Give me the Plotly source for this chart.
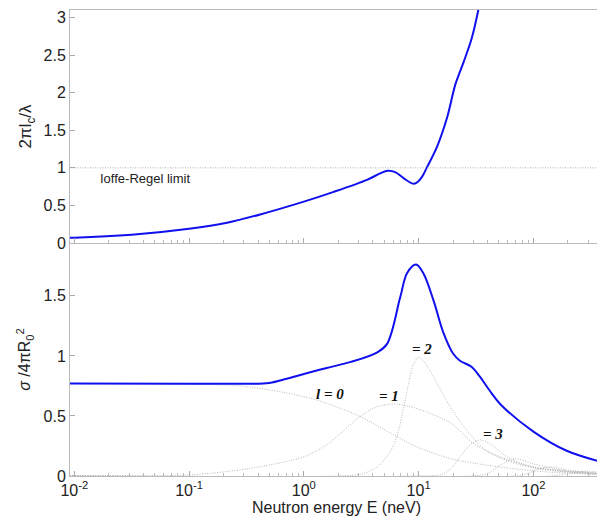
import math
import plotly.graph_objects as go
from plotly.subplots import make_subplots

# ---- data (E in neV) ----
top_E = [0.00912, 0.01, 0.0316, 0.1, 0.214, 0.417, 1.0, 1.82, 3.548, 4.677, 5.37, 6.31,
         7.586, 8.913, 9.55, 10.7, 11.75, 14.45, 17.78, 20.89, 24.55, 28.84, 33.11, 38.02]
top_val = [0.07, 0.071, 0.11, 0.19, 0.27, 0.38, 0.55, 0.68, 0.84, 0.93, 0.96, 0.94,
           0.85, 0.79, 0.80, 0.88, 1.0, 1.28, 1.68, 2.11, 2.40, 2.71, 3.1, 3.6]

tot_E = [0.00912, 0.1, 0.316, 0.501, 0.708, 1.0, 1.585, 2.57, 4.365, 5.309, 6.918, 7.943,
         9.484, 10.96, 13.49, 16.48, 19.95, 22.91, 28.84, 34.28, 41.69, 51.29, 100, 195, 389, 405]
tot_val = [0.77, 0.768, 0.768, 0.775, 0.81, 0.85, 0.90, 0.95, 1.03, 1.10, 1.49, 1.69,
           1.76, 1.69, 1.46, 1.19, 1.02, 0.96, 0.91, 0.825, 0.71, 0.60, 0.37, 0.21, 0.117, 0.113]

l0_E = [0.00912, 0.1, 0.282, 0.631, 1.318, 3.02, 5.623, 9.772, 19.95, 51.29, 125.9, 405]
l0_val = [0.77, 0.765, 0.75, 0.70, 0.63, 0.50, 0.36, 0.24, 0.14, 0.075, 0.035, 0.012]

l1_E = [0.00912, 0.0316, 0.1, 0.347, 1.0, 1.585, 2.239, 3.02, 4.169, 6.026, 9.772, 19.05,
        30.2, 51.29, 100, 405]
l1_val = [0.0, 0.001, 0.008, 0.064, 0.16, 0.26, 0.38, 0.49, 0.57, 0.60, 0.56, 0.44,
          0.27, 0.16, 0.075, 0.02]

l2_E = [0.00912, 1.995, 3.162, 4.365, 5.623, 6.457, 7.943, 8.913, 10.0, 11.22, 13.49, 18.84,
        26.3, 38.9, 72.44, 158.5, 405]
l2_val = [0.0, 0.0, 0.015, 0.075, 0.2, 0.325, 0.71, 0.92, 0.99, 0.95, 0.825, 0.575,
          0.38, 0.21, 0.10, 0.045, 0.02]

l3_E = [0.00912, 10.0, 16.22, 19.95, 22.91, 28.18, 34.28, 41.69, 58.88, 100, 199.5, 405]
l3_val = [0.0, 0.0, 0.015, 0.08, 0.16, 0.26, 0.30, 0.27, 0.16, 0.07, 0.03, 0.012]

l4_E = [0.00912, 28.18, 39.81, 51.29, 69.18, 100, 195, 405]
l4_val = [0.0, 0.0, 0.02, 0.09, 0.145, 0.10, 0.04, 0.015]

l5_E = [0.00912, 70.79, 89.13, 112.2, 141.3, 199.5, 405]
l5_val = [0.0, 0.0, 0.02, 0.06, 0.075, 0.05, 0.02]

l6_E = [0.00912, 141.3, 199.5, 281.8, 405]
l6_val = [0.0, 0.0, 0.02, 0.04, 0.03]

wave_labels = ["<b><i>l = 0</i></b>", "<b><i>= 1</i></b>", "<b><i>= 2</i></b>", "<b><i>= 3</i></b>"]
wave_label_E = [1.7, 5.5, 10.7, 44.0]
wave_label_val = [0.68, 0.67, 1.06, 0.35]

x_tickvals = [0.01, 0.1, 1, 10, 100]
x_ticktext = ["10<sup>-2</sup>", "10<sup>-1</sup>", "10<sup>0</sup>", "10<sup>1</sup>", "10<sup>2</sup>"]

limit_value = 1.0
limit_text = "Ioffe-Regel limit"

# ---- figure ----
fig = make_subplots(rows=2, cols=1, shared_xaxes=True, vertical_spacing=0.0)

blue = "#1010ee"
grey = "#999999"
font_sans = "Liberation Sans, Arial"

fig.add_trace(go.Scatter(x=top_E, y=top_val, mode="lines",
                         line=dict(color=blue, width=2, shape="spline", smoothing=0.9),
                         showlegend=False), row=1, col=1)

for xs, ys in [(l0_E, l0_val), (l1_E, l1_val), (l2_E, l2_val), (l3_E, l3_val),
               (l4_E, l4_val), (l5_E, l5_val), (l6_E, l6_val)]:
    fig.add_trace(go.Scatter(x=xs, y=ys, mode="lines",
                             line=dict(color=grey, width=0.7, dash="1px,1.5px", shape="spline", smoothing=0.8),
                             showlegend=False), row=2, col=1)

fig.add_trace(go.Scatter(x=tot_E, y=tot_val, mode="lines", line=dict(color=blue, width=2, shape="spline"),
                         showlegend=False), row=2, col=1)

fig.add_hline(y=limit_value, line=dict(color="#b0b0b0", width=1, dash="1px,1.5px"), row=1, col=1)
fig.add_annotation(x=-1.38, y=0.86, xref="x", yref="y", text=limit_text, showarrow=False,
                   font=dict(family=font_sans, size=13, color="#222"))

for t, e, v in zip(wave_labels, wave_label_E, wave_label_val):
    fig.add_annotation(x=math.log10(e), y=v, xref="x2", yref="y2", text=t, showarrow=False,
                       font=dict(family="Liberation Serif, Times New Roman", size=15, color="#111"))

axis_common = dict(showline=True, linecolor="#bbbbbb", linewidth=1, ticks="inside", ticklen=5,
                   tickcolor="#aaaaaa", showgrid=False, zeroline=False, automargin=False,
                   tickfont=dict(family=font_sans, size=16, color="#222"))

xrange = [-2.037, 2.606]
fig.update_xaxes(type="log", range=xrange, tickmode="array", tickvals=x_tickvals, ticktext=x_ticktext,
                 minor=dict(ticks="inside", ticklen=3, tickcolor="#bbbbbb", showgrid=False, dtick="D1"),
                 **axis_common)
fig.update_xaxes(showticklabels=False, mirror=True, row=1, col=1)
fig.update_xaxes(title=dict(text="Neutron energy E (neV)", font=dict(family=font_sans, size=16, color="#222"),
                            standoff=2), row=2, col=1)

fig.update_yaxes(mirror="ticks", **axis_common)
fig.update_yaxes(range=[0, 3.1], tickvals=[0, 0.5, 1, 1.5, 2, 2.5, 3], ticktext=["0", "0.5", "1", "1.5", "2", "2.5", "3"],
                 title=dict(text="2πl<sub>c</sub>/λ", font=dict(family=font_sans, size=17, color="#222"),
                            standoff=7), row=1, col=1)
fig.update_yaxes(range=[0, 1.94], tickvals=[0, 0.5, 1, 1.5], ticktext=["0", "0.5", "1", "1.5"],
                 title=dict(text="<i>σ</i> /4πR<sub>0</sub><sup>2</sup>", font=dict(family=font_sans, size=16, color="#222"),
                            standoff=8), row=2, col=1)

# page body has an 8px default margin; size the figure so the plot area lands where the reference has it
fig.update_layout(width=597, height=515, margin=dict(l=62, r=2, t=2, b=47),
                  plot_bgcolor="white", paper_bgcolor="white")

fig.write_html("out.html")
